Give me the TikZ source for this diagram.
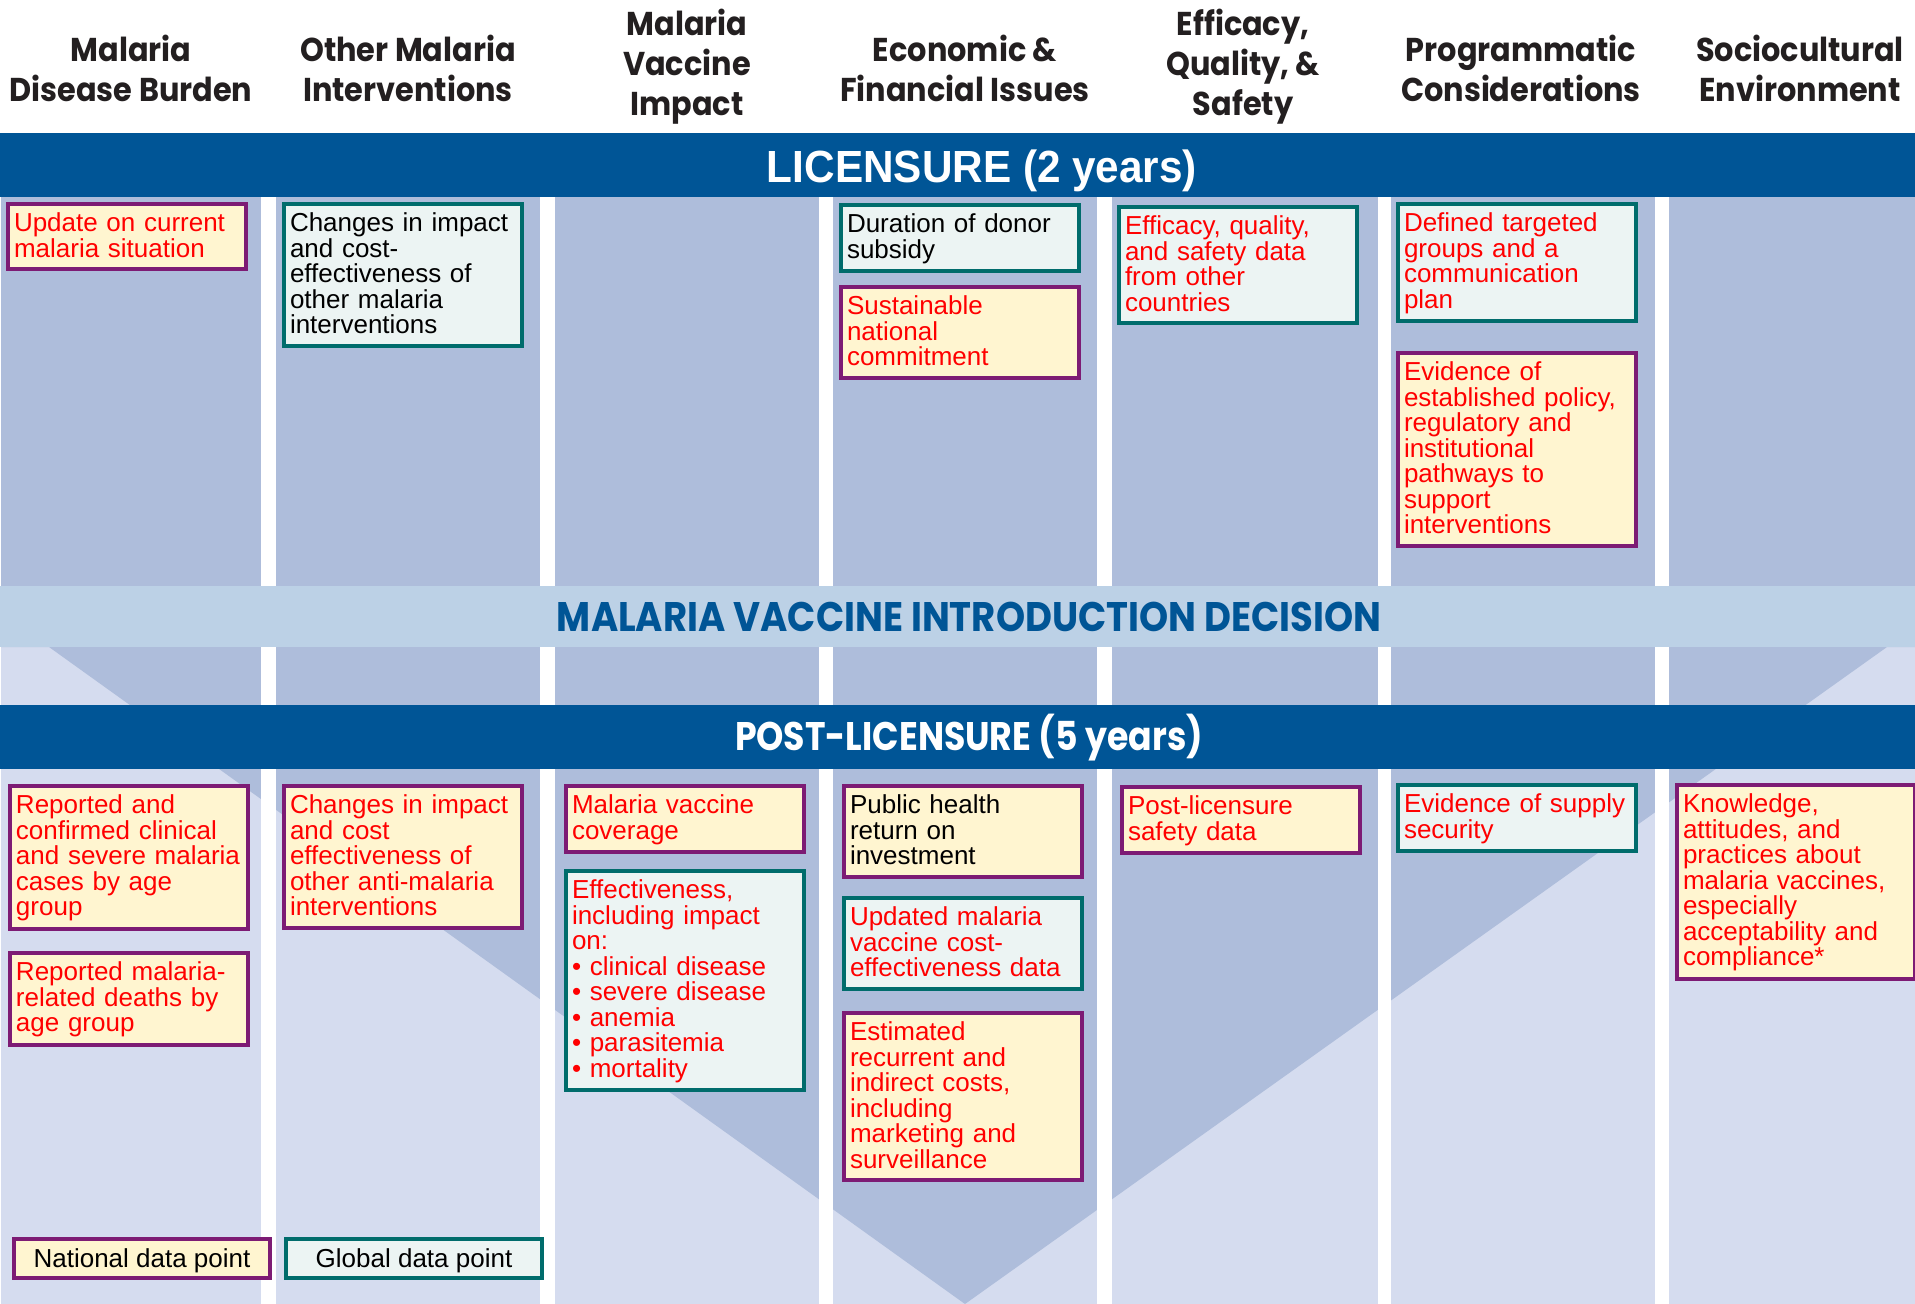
\documentclass[tikz,border=0pt]{standalone}
\usepackage{fontspec}
\usepackage{graphicx}
\setmainfont{Liberation Sans}
\newfontfamily\headfont{Poppins}[FakeStretch=0.92]
\definecolor{barblue}{RGB}{0,85,150}
\definecolor{colblue}{RGB}{174,189,219}
\definecolor{lightcol}{RGB}{213,220,239}
\definecolor{decbar}{RGB}{188,209,230}
\definecolor{natfill}{RGB}{255,245,208}
\definecolor{natline}{RGB}{125,27,116}
\definecolor{glofill}{RGB}{236,244,243}
\definecolor{gloline}{RGB}{0,108,108}
\definecolor{redtxt}{RGB}{255,0,0}
\definecolor{headtxt}{RGB}{35,31,32}
\newcommand\boxfont{\fontsize{26pt}{25.5pt}\selectfont}
\newcommand\headsty{\headfont\bfseries\fontsize{33pt}{40pt}\selectfont}
\newcommand\tstrut{\rule{0pt}{19.5pt}}
\newcommand\bstrut{\rule[-4pt]{0pt}{4pt}}
\newcommand\hstrut{\rule{0pt}{25pt}}
\begin{document}
\begin{tikzpicture}[x=1pt,y=-1pt,
  box/.style={draw, line width=4pt, anchor=north west, text width=226pt,
    inner xsep=6pt, inner ysep=8pt, align=left, font=\boxfont,
    execute at begin node=\tstrut, execute at end node=\bstrut},
  nat/.style={box, fill=natfill, draw=natline},
  glo/.style={box, fill=glofill, draw=gloline},
  rtext/.style={text=redtxt},
  ktext/.style={text=black},
  legendbox/.style={draw, line width=4pt, anchor=north west, minimum width=256pt,
    minimum height=39pt, inner sep=0pt, font=\boxfont, text height=18.3pt, text depth=0pt, text=black},
  head/.style={anchor=north, inner sep=0pt, align=center, font=\headsty, text=headtxt},
  bartext/.style={anchor=base, inner sep=0pt}]
\useasboundingbox (0,0) rectangle (1915,1304);
\fill[white] (0,0) rectangle (1915,1304);
% column backgrounds
\fill[lightcol] (0,197) rectangle (1915,1304);
\fill[colblue] (0,197) -- (1915,197) -- (1915,647) -- (1887,647) -- (965,1304) -- (49,647) -- (0,647) -- cycle;
\fill[white] (0,197) rectangle (1,1304);
\foreach \a/\b in {261/276,540/555,819/833,1097/1112,1378/1391,1655/1669}
  \fill[white] (\a,197) rectangle (\b,1304);
% bars
\fill[barblue] (0,133) rectangle (1915,197);
\fill[decbar] (0,586) rectangle (1915,647);
\fill[barblue] (0,705) rectangle (1915,769);
% headers
\node[head] (h0) at (131,35) {\hstrut Malaria\\Disease Burden};
\node[head] (h1) at (408,35) {\hstrut Other Malaria\\Interventions};
\node[head] (h2) at (687,9) {\hstrut Malaria\\Vaccine\\Impact};
\node[head] (h3) at (965,35) {\hstrut Economic \&\\Financial Issues};
\node[head] (h4) at (1243,9) {\hstrut Efficacy,\\Quality, \&\\Safety};
\node[head] (h5) at (1521,35) {\hstrut Programmatic\\Considerations};
\node[head] (h6) at (1800,35) {\hstrut Sociocultural\\Environment};
% bar texts
\node[bartext, text=white] (lic) at (982,182)
  {\resizebox{430pt}{31pt}{\fontsize{43pt}{43pt}\selectfont\bfseries\smash{LICENSURE (2 years)}\vphantom{E}}};
\node[bartext, text=barblue] (dec) at (969,631)
  {\resizebox{824pt}{29pt}{\headfont\bfseries\fontsize{40pt}{40pt}\selectfont\smash{MALARIA VACCINE INTRODUCTION DECISION}\vphantom{E}}};
\node[bartext, text=white] (post) at (969,750)
  {\resizebox{468pt}{28pt}{\headfont\bfseries\fontsize{40pt}{40pt}\selectfont\smash{POST-LICENSURE (5 years)}\vphantom{E}}};
% licensure boxes
\node[nat, rtext] (a1) at (6,202) {Update on current\\malaria situation};
\node[glo, ktext] (a2) at (282,202) {Changes in impact\\and cost-\\effectiveness of\\other malaria\\interventions};
\node[glo, ktext] (a3) at (839,203) {Duration of donor\\subsidy};
\node[nat, rtext] (a4) at (839,285) {Sustainable\\national\\commitment};
\node[glo, rtext] (a5) at (1117,205) {Efficacy, quality,\\and safety data\\from other\\countries};
\node[glo, rtext] (a6) at (1396,202) {Defined targeted\\groups and a\\communication\\plan};
\node[nat, rtext] (a7) at (1396,351) {Evidence of\\established policy,\\regulatory and\\institutional\\pathways to\\support\\interventions};
% post-licensure boxes
\node[nat, rtext] (b1) at (8,784) {Reported and\\confirmed clinical\\and severe malaria\\cases by age\\group};
\node[nat, rtext] (b2) at (8,951) {Reported malaria-\\related deaths by\\age group};
\node[nat, rtext] (b3) at (282,784) {Changes in impact\\and cost\\effectiveness of\\other anti-malaria\\interventions};
\node[nat, rtext] (b4) at (564,784) {Malaria vaccine\\coverage};
\node[glo, rtext] (b5) at (564,869) {Effectiveness,\\including impact\\on:\\• clinical disease\\• severe disease\\• anemia\\• parasitemia\\• mortality};
\node[nat, ktext] (b6) at (842,784) {Public health\\return on\\investment};
\node[glo, rtext] (b7) at (842,896) {Updated malaria\\vaccine cost-\\effectiveness data};
\node[nat, rtext] (b8) at (842,1011) {Estimated\\recurrent and\\indirect costs,\\including\\marketing and\\surveillance};
\node[nat, rtext] (b9) at (1120,785) {Post-licensure\\safety data};
\node[glo, rtext] (b10) at (1396,783) {Evidence of supply\\security};
\node[nat, rtext] (b11) at (1675,783) {Knowledge,\\attitudes, and\\practices about\\malaria vaccines,\\especially\\acceptability and\\compliance*};
% legend
\node[legendbox, fill=natfill, draw=natline] (ln) at (12,1237) {National data point};
\node[legendbox, fill=glofill, draw=gloline] (lg) at (284,1237) {Global data point};
\end{tikzpicture}
\end{document}
